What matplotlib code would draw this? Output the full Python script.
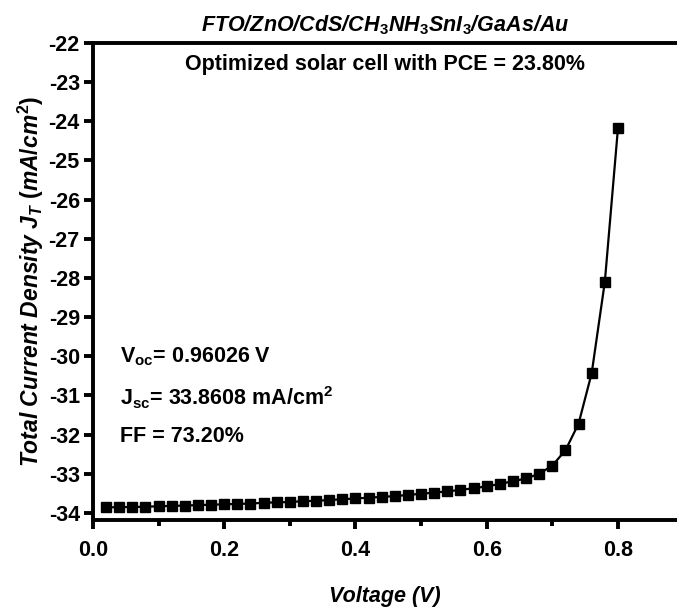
import matplotlib
matplotlib.use("Agg")
import matplotlib.pyplot as plt
from matplotlib.ticker import MultipleLocator, FormatStrFormatter

plt.rcParams['font.family'] = ['Liberation Sans', 'DejaVu Sans']
plt.rcParams['font.weight'] = 'bold'
plt.rcParams['axes.unicode_minus'] = False
plt.rcParams['mathtext.fontset'] = 'custom'
plt.rcParams['mathtext.rm'] = 'Liberation Sans:bold'
plt.rcParams['mathtext.bf'] = 'Liberation Sans:bold'
plt.rcParams['mathtext.it'] = 'Liberation Sans:bold:italic'
plt.rcParams['mathtext.default'] = 'rm'

voltage = [0.02, 0.04, 0.06, 0.08, 0.10, 0.12, 0.14, 0.16, 0.18, 0.20,
           0.22, 0.24, 0.26, 0.28, 0.30, 0.32, 0.34, 0.36, 0.38, 0.40,
           0.42, 0.44, 0.46, 0.48, 0.50, 0.52, 0.54, 0.56, 0.58, 0.60,
           0.62, 0.64, 0.66, 0.68, 0.70, 0.72, 0.74, 0.76, 0.78, 0.80]
current = [-33.86, -33.85, -33.85, -33.84, -33.83, -33.82, -33.81, -33.80, -33.79, -33.78,
           -33.77, -33.76, -33.74, -33.73, -33.72, -33.70, -33.69, -33.67, -33.65, -33.63,
           -33.61, -33.59, -33.57, -33.54, -33.51, -33.48, -33.45, -33.41, -33.37, -33.32,
           -33.26, -33.19, -33.12, -33.00, -32.79, -32.40, -31.72, -30.43, -28.10, -24.18]

x_ticks = [0.0, 0.2, 0.4, 0.6, 0.8]
y_ticks = list(range(-22, -35, -1))

title_text = "FTO/ZnO/CdS/CH$_\\mathit{3}$NH$_\\mathit{3}$SnI$_\\mathit{3}$/GaAs/Au"
inner_text = "Optimized solar cell with PCE = 23.80%"
voc_text = "V$_{oc}$= 0.96026 V"
jsc_text = "J$_{sc}$= 33.8608 mA/cm$^{2}$"
ff_text = "FF = 73.20%"

FS = 15.5

fig = plt.figure(figsize=(6.77, 6.10), dpi=100)
ax = fig.add_axes([93/677, 1-520/610, 1-93/677, (520-43)/610])

ax.plot(voltage, current, color='black', lw=1.6, marker='s', ms=7,
        markerfacecolor='black', markeredgecolor='black', clip_on=False, zorder=3)

ax.set_xlim(0, 0.89)
ax.set_ylim(-34.18, -22)
ax.set_xticks(x_ticks)
ax.set_yticks(y_ticks)
ax.xaxis.set_minor_locator(MultipleLocator(0.1))
ax.xaxis.set_major_formatter(FormatStrFormatter('%.1f'))

for s in ['left', 'bottom', 'top']:
    ax.spines[s].set_linewidth(2.8)
ax.spines['right'].set_visible(False)
ax.tick_params(axis='both', which='major', direction='out', length=6.5, width=2.8,
               labelsize=FS)
ax.tick_params(axis='x', which='minor', direction='out', length=4, width=2.8)
ax.tick_params(axis='x', which='major', pad=8)
ax.tick_params(axis='y', which='major', pad=3)
for lab in ax.get_xticklabels() + ax.get_yticklabels():
    lab.set_fontweight('bold')

ax.set_xlabel("Voltage (V)", fontsize=FS, fontweight='bold', fontstyle='italic', labelpad=18)
ax.set_ylabel("Total Current Density $\\mathit{J_T}$ $\\mathit{(mA/cm^2)}$", fontsize=16.5,
              fontweight='bold', fontstyle='italic', labelpad=2)
ax.set_title(title_text, fontsize=FS, fontweight='bold', fontstyle='italic', pad=8)

ax.text(0.5, -22.56, inner_text, ha='center', va='center', fontsize=FS,
        fontweight='bold', transform=ax.get_yaxis_transform())
ax.text(0.041, -30.0, voc_text, ha='left', va='center', fontsize=FS, fontweight='bold')
ax.text(0.041, -31.05, jsc_text, ha='left', va='center', fontsize=FS, fontweight='bold')
ax.text(0.041, -32.05, ff_text, ha='left', va='center', fontsize=FS, fontweight='bold')

fig.savefig("out.png", dpi=100)
